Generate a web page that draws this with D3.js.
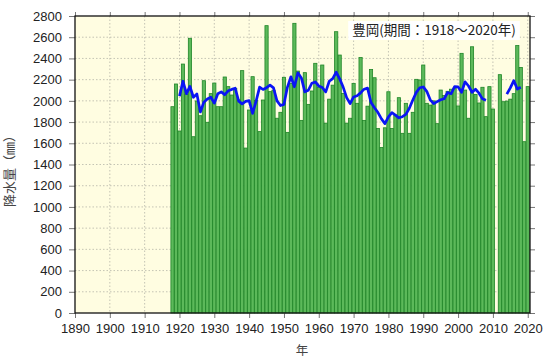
<!DOCTYPE html>
<html><head><meta charset="utf-8">
<script src="https://cdn.jsdelivr.net/npm/d3@7"></script>
<style>body{margin:0;background:#fff}svg{display:block}</style>
</head><body><svg id="c" width="549" height="360"></svg>
<script>
// ---- data ----
const years = d3.range(1918, 2021);
const rainfall = [
 1945,2159,1716,2347,2060,2590,1662,1999,1860,2190, // 1918-1927
 1798,2068,2168,1945,1945,2225,2134,2055,2116,2010, // 1928-1937
 2285,1555,1914,2228,2003,1710,2008,2709,2087,2100, // 1938-1947
 1836,1892,2222,1703,2165,2731,2281,1816,2266,1967, // 1948-1957
 2093,2354,2130,2338,1790,2016,2148,2652,2432,2070, // 1958-1967
 1790,1836,2165,1977,2408,1816,1950,2295,2218,1740, // 1968-1977
 1560,1746,2086,1740,1867,2030,1694,1977,1694,1892, // 1978-1987
 2203,2197,2338,1977,1960,2000,1785,2102,2050,2090, // 1988-1997
 2110,2120,1952,2448,2102,1836,2510,2060,1980,2128, // 1998-2007
 1851,2134,1923,null,2247,1992,1998,2016,2068,2521, // 2008-2017
 2315,1615,2134                                      // 2018-2020
];
const avgYears = d3.range(1920, 2019);
const movingAvg = [
 2045,2185,2068,2136,2034,2065,1895,1988,2018,2034, // 1920-1929
 1978,2067,2085,2058,2095,2108,2119,1998,1972,1995, // 1930-1939
 2002,1882,1998,2130,2107,2124,2148,2122,2000,1956, // 1940-1949
 1967,2130,2227,2133,2264,2216,2085,2100,2166,2178, // 1950-1959
 2140,2126,2085,2185,2210,2270,2207,2130,2030,1975, // 1960-1969
 2037,2048,2075,2110,2120,1985,1935,1890,1830,1785, // 1970-1979
 1850,1888,1866,1840,1851,1872,1930,2008,2080,2124, // 1980-1989
 2131,2090,2010,1974,1993,2010,2020,2079,2067,2135, // 1990-1999
 2132,2081,2180,2140,2081,2110,2072,2019,2005,null, // 2000-2009
 null,null,null,null,2063,2122,2190,2112,2128       // 2010-2018
];
const yTicks = d3.range(0, 2801, 200);
const xTicks = d3.range(1890, 2021, 10);
const titleText = "豊岡(期間：1918～2020年)";
const yTitle = "降水量（㎜）";
const xTitle = "年";

// ---- chart ----
const svg = d3.select("#c");
const L = 75, R = 530, T = 16, B = 313;
const x = d3.scaleLinear().domain([1890, 2020.65]).range([L, R]);
const y = d3.scaleLinear().domain([0, 2800]).range([B, T]);
const numFont = "'Liberation Sans', Arial, Helvetica, sans-serif";
const jpFont = "'Noto Sans CJK JP', sans-serif";

svg.append("rect").attr("x", L).attr("y", T).attr("width", R - L).attr("height", B - T)
  .attr("fill", "#fffde1");

// grid
const grid = svg.append("g").attr("stroke", "#b5b5a8").attr("stroke-width", 0.8)
  .attr("stroke-dasharray", "1.5,2");
grid.selectAll("line.h").data(yTicks.slice(1, -1)).join("line")
  .attr("x1", L).attr("x2", R).attr("y1", d => y(d)).attr("y2", d => y(d));
grid.selectAll("line.v").data(xTicks.slice(1)).join("line")
  .attr("y1", T).attr("y2", B).attr("x1", d => x(d)).attr("x2", d => x(d));

// bars
const step = x(1) - x(0);
const bw = step * 0.92;
svg.append("g").selectAll("rect").data(years.map((yr, i) => ({yr, v: rainfall[i]})).filter(d => d.v != null))
  .join("rect")
  .attr("x", d => x(d.yr) - bw / 2)
  .attr("width", bw)
  .attr("y", d => y(d.v))
  .attr("height", d => y(0) - y(d.v))
  .attr("fill", "#5cb95a")
  .attr("stroke", "#1f8527")
  .attr("stroke-width", 0.8);

// moving average line
const line = d3.line().defined(d => d.v != null).x(d => x(d.yr)).y(d => y(d.v));
svg.append("path").datum(avgYears.map((yr, i) => ({yr, v: movingAvg[i]})))
  .attr("d", line).attr("fill", "none").attr("stroke", "#0a14f5")
  .attr("stroke-width", 2.7).attr("stroke-linejoin", "round");

// axes
function styleAxis(g) {
  g.select(".domain").remove();
  g.selectAll(".tick line").attr("stroke", "#777");
  g.selectAll(".tick text").attr("fill", "#222").style("font-family", numFont).style("font-size", "13px");
}
svg.append("g").attr("transform", `translate(${L},0)`)
  .call(d3.axisLeft(y).tickValues(yTicks).tickSize(6).tickPadding(7).tickFormat(d3.format("d")))
  .call(styleAxis);
svg.append("g").attr("transform", `translate(${R},0)`)
  .call(d3.axisRight(y).tickValues(yTicks).tickSize(5).tickFormat(""))
  .call(styleAxis);
svg.append("g").attr("transform", `translate(0,${B})`)
  .call(d3.axisBottom(x).tickValues(xTicks).tickSize(5).tickPadding(6).tickFormat(d3.format("d")))
  .call(styleAxis);
svg.append("g").attr("transform", `translate(0,${T})`)
  .call(d3.axisTop(x).tickValues(xTicks).tickSize(4).tickFormat(""))
  .call(styleAxis);

// frame
svg.append("rect").attr("x", L).attr("y", T).attr("width", R - L).attr("height", B - T)
  .attr("fill", "none").attr("stroke", "#111").attr("stroke-width", 1.3);

// title box
const tg = svg.append("g");
const tt = tg.append("text").attr("x", 434).attr("y", 35).attr("text-anchor", "middle")
  .style("font-family", jpFont).style("font-size", "13.5px").style("font-weight", "400")
  .attr("fill", "#222").text(titleText);
const bb = tt.node().getBBox();
tg.insert("rect", "text").attr("x", bb.x - 4).attr("y", 21).attr("width", bb.width + 8).attr("height", 19)
  .attr("fill", "#fff");

// axis titles
svg.append("text").attr("transform", "translate(14,168) rotate(-90)").attr("text-anchor", "middle")
  .style("font-family", jpFont).style("font-size", "13px").attr("fill", "#444").text(yTitle);
svg.append("text").attr("x", 302).attr("y", 355).attr("text-anchor", "middle")
  .style("font-family", jpFont).style("font-size", "12.5px").attr("fill", "#444").text(xTitle);
</script></body></html>
